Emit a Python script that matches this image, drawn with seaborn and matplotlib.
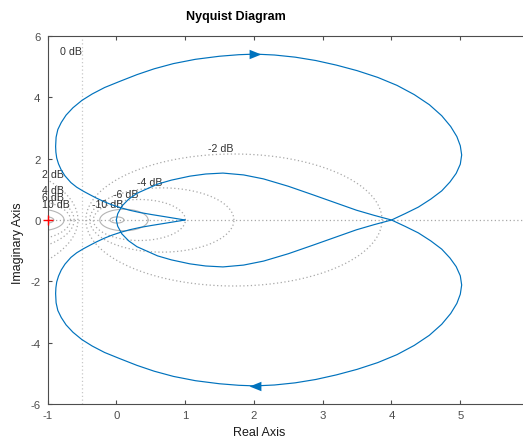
import numpy as np
import pandas as pd
import matplotlib
matplotlib.use("Agg")
import matplotlib.pyplot as plt
import seaborn as sns

# Nyquist curve, positive-frequency sweep: outer loop from w = 0 (1+0j),
# around the upper half-plane and back to the real-axis crossing at 4
loop_re = [1.00, 0.85, 0.70, 0.52, 0.34, 0.19, 0.05, -0.07, -0.18, -0.285,
           -0.38, -0.48, -0.576, -0.66, -0.746, -0.80, -0.84, -0.866, -0.878, -0.882,
           -0.875, -0.85, -0.80, -0.73, -0.63, -0.50, -0.35, -0.17, 0.05, 0.30,
           0.55, 0.83, 1.15, 1.50, 1.78, 2.02, 2.30, 2.60, 2.90, 3.20,
           3.50, 3.80, 4.08, 4.33, 4.55, 4.73, 4.86, 4.95, 5.00, 5.02,
           5.00, 4.94, 4.85, 4.73, 4.57, 4.39, 4.20, 4.00]
loop_im = [0.00, 0.055, 0.11, 0.175, 0.245, 0.32, 0.41, 0.50, 0.60, 0.71,
           0.82, 0.94, 1.07, 1.22, 1.44, 1.63, 1.83, 2.02, 2.21, 2.40,
           2.70, 2.95, 3.18, 3.42, 3.66, 3.90, 4.11, 4.32, 4.52, 4.74,
           4.93, 5.10, 5.24, 5.34, 5.39, 5.41, 5.38, 5.31, 5.20, 5.05,
           4.87, 4.65, 4.39, 4.09, 3.76, 3.40, 3.05, 2.72, 2.42, 2.12,
           1.82, 1.52, 1.24, 0.95, 0.68, 0.42, 0.21, 0.00]

# Inner lobe (upper half), from the origin (w -> -inf) out to the crossing at 4
lobe_re = [0.00, 0.02, 0.08, 0.18, 0.30, 0.45, 0.60, 0.80, 1.07, 1.30,
           1.55, 1.85, 2.14, 2.50, 2.86, 3.20, 3.49, 3.75, 4.00]
lobe_im = [0.00, 0.20, 0.45, 0.68, 0.87, 1.02, 1.17, 1.30, 1.43, 1.50,
           1.53, 1.47, 1.34, 1.10, 0.82, 0.55, 0.32, 0.15, 0.00]

# Constant-magnitude (M-circle) grid
grid_db = [-20, -10, -6, -4, -2, 0, 2, 4, 6, 10, 20]
solid_db = [-20, -10, 10, 20]
grid_labels = ["0 dB", "2 dB", "4 dB", "6 dB", "10 dB",
               "-2 dB", "-4 dB", "-6 dB", "-10 dB"]
label_re = [-0.82, -1.085, -1.085, -1.085, -1.085, 1.337, 0.297, -0.048, -0.358]
label_im = [5.51, 1.50, 0.98, 0.76, 0.52, 2.35, 1.25, 0.85, 0.52]

xticks = [-1, 0, 1, 2, 3, 4, 5]
yticks = [-6, -4, -2, 0, 2, 4, 6]

sns.set_theme(style="white")
plt.rcParams["font.family"] = ["Liberation Sans", "DejaVu Sans"]

W, H = 523, 439
fig = plt.figure(figsize=(W / 100, H / 100), dpi=100)
ax = fig.add_axes([47.5 / W, 1 - 405 / H, 1 - 47.5 / W, 368 / H])

grid_col = "#a8a8a8"
# 0 dB line and real axis
ax.axvline(-0.5, color="#c8c8c8", lw=0.9, ls=(0, (1, 2)), zorder=1)
ax.axhline(0, color=grid_col, lw=0.9, ls=(0, (1, 2)), zorder=1)

t = np.linspace(0, 2 * np.pi, 721)
for db in grid_db:
    if db == 0:
        continue
    m = 10 ** (db / 20)
    c = m ** 2 / (1 - m ** 2)
    r = abs(m / (1 - m ** 2))
    solid = db in solid_db
    ax.plot(c + r * np.cos(t), r * np.sin(t),
            color="#b4b4b4" if solid else grid_col,
            lw=0.8 if solid else 0.9,
            ls="-" if solid else (0, (1, 2)), zorder=1)

for txt, xr, yi in zip(grid_labels, label_re, label_im):
    ax.text(xr, yi, txt, fontsize=7.7, color="#333333", ha="left", va="center",
            clip_on=False, zorder=3)

# Positive and negative frequency branches
pos_re = loop_re + lobe_re[::-1][1:]
pos_im = loop_im + [-v for v in lobe_im[::-1][1:]]
pos = pd.DataFrame({"re": pos_re, "im": pos_im})
neg = pd.DataFrame({"re": pos_re, "im": [-v for v in pos_im]})

blue = "#0072BD"
sns.lineplot(data=pos, x="re", y="im", sort=False, estimator=None, color=blue,
             lw=0.85, ax=ax, zorder=4)
sns.lineplot(data=neg, x="re", y="im", sort=False, estimator=None, color=blue,
             lw=0.85, ax=ax, zorder=4)

# Direction arrows at the top of each outer loop
k = int(np.argmax(loop_im))
tri_r = [(-1, -0.8), (1, 0), (-1, 0.8), (-1, -0.8)]
tri_l = [(1, -0.8), (-1, 0), (1, 0.8), (1, -0.8)]
ax.plot([loop_re[k]], [loop_im[k]], marker=tri_r, ms=8.5, color=blue, mew=0, zorder=5)
ax.plot([loop_re[k]], [-loop_im[k]], marker=tri_l, ms=8.5, color=blue, mew=0, zorder=5)

# Critical point
ax.plot([-1], [0], marker="+", ms=7, mew=1.0, color="red", zorder=6, clip_on=False)

ax.set_xlim(-1, (W - 47.5) / 68.8 - 1)
ax.set_ylim(-6, 6)
ax.set_xticks(xticks)
ax.set_yticks(yticks)
ax.set_xticklabels([str(v) for v in xticks])
ax.set_yticklabels([str(v) for v in yticks])

spine_col = "#4d4d4d"
for s in ["top", "left", "bottom"]:
    ax.spines[s].set_visible(True)
    ax.spines[s].set_color(spine_col)
    ax.spines[s].set_linewidth(0.8)
ax.spines["right"].set_visible(False)
ax.tick_params(axis="both", which="both", direction="in", length=3.2, width=0.8,
               color=spine_col, labelcolor="#4d4d4d", labelsize=8.2,
               top=True, bottom=True, left=True, right=False)
ax.tick_params(axis="x", pad=4.0)
ax.tick_params(axis="y", pad=5.0)

ax.set_xlabel("Real Axis", fontsize=9, color="#1a1a1a")
ax.set_ylabel("Imaginary Axis", fontsize=9, color="#1a1a1a")
ax.xaxis.set_label_coords(0.446, -0.076)
ax.xaxis.label.set_verticalalignment("center")
ax.yaxis.set_label_coords(-0.062, 0.44)
ax.yaxis.label.set_verticalalignment("center")
ax.set_title("Nyquist Diagram", fontsize=9, fontweight="bold", color="#000000",
             x=0.396, y=1.054, va="center", pad=0)

fig.savefig("out.png", dpi=100)
